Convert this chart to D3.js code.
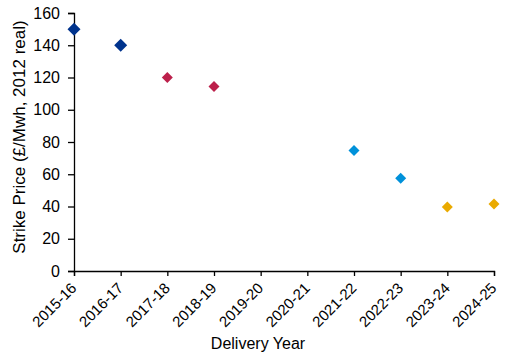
<!DOCTYPE html>
<html><head><meta charset="utf-8">
<script src="https://cdn.jsdelivr.net/npm/d3@7"></script>
<style>
body{margin:0;background:#fff;}
text{font-family:"Liberation Sans",Arial,sans-serif;fill:#000;}
</style></head>
<body><svg id="c" width="512" height="356"></svg>
<script>
const categories = ["2015-16","2016-17","2017-18","2018-19","2019-20","2020-21","2021-22","2022-23","2023-24","2024-25"];
const values = [150, 140, 120, 114.4, null, null, 74.75, 57.5, 39.65, 41.6];
const groups = ["a","a","b","b",null,null,"c","c","d","d"];
const groupColors = {a:"#00338D", b:"#BC204B", c:"#0091DA", d:"#EAAA00"};
const groupSizes = {a:13, b:11, c:11, d:11};
const yTicks = [0,20,40,60,80,100,120,140,160];
const yTitle = "Strike Price (£/Mwh, 2012 real)";
const xTitle = "Delivery Year";

const svg = d3.select("#c");
const m = {l:74, r:18, t:13, b:85};
const W = 512, H = 356;
const x = d3.scalePoint().domain(categories).range([m.l, W - m.r]);
const y = d3.scaleLinear().domain([0,160]).range([H - m.b, m.t]);

const yAx = svg.append("g").attr("transform",`translate(${m.l},0)`)
  .call(d3.axisLeft(y).tickValues(yTicks).tickSize(6).tickPadding(8));
const xAx = svg.append("g").attr("transform",`translate(0,${H-m.b})`)
  .call(d3.axisBottom(x).tickSize(5).tickPadding(4));
[yAx,xAx].forEach(a=>{
  a.select(".domain").attr("stroke","#000").attr("stroke-width",1.3);
  a.selectAll(".tick line").attr("stroke","#000").attr("stroke-width",1.3);
  a.selectAll("text").attr("font-family","Liberation Sans, Arial, sans-serif").attr("fill","#000");
});
yAx.selectAll("text").attr("font-size",16);
xAx.selectAll(".tick text")
  .attr("font-size",15)
  .attr("text-anchor","end")
  .attr("dy",0)
  .attr("transform","translate(3,18) rotate(-45)")
  .attr("y",0).attr("x",0);

const data = categories.map((c,i)=>({c, v:values[i], g:groups[i]})).filter(d=>d.v!=null);
svg.append("g").selectAll("path").data(data).join("path")
  .attr("transform", d=>`translate(${x(d.c)},${y(d.v)})`)
  .attr("d", d=>{const s=groupSizes[d.g]/2; return `M0,${-s}L${s},0L0,${s}L${-s},0Z`;})
  .attr("fill", d=>groupColors[d.g]);

svg.append("text").attr("x",258).attr("y",349)
  .attr("text-anchor","middle").attr("font-size",16).text(xTitle);
svg.append("text").attr("transform",`translate(19.5,137) rotate(-90)`)
  .attr("text-anchor","middle").attr("dy","0.35em").attr("font-size",17).text(yTitle);
</script></body></html>
